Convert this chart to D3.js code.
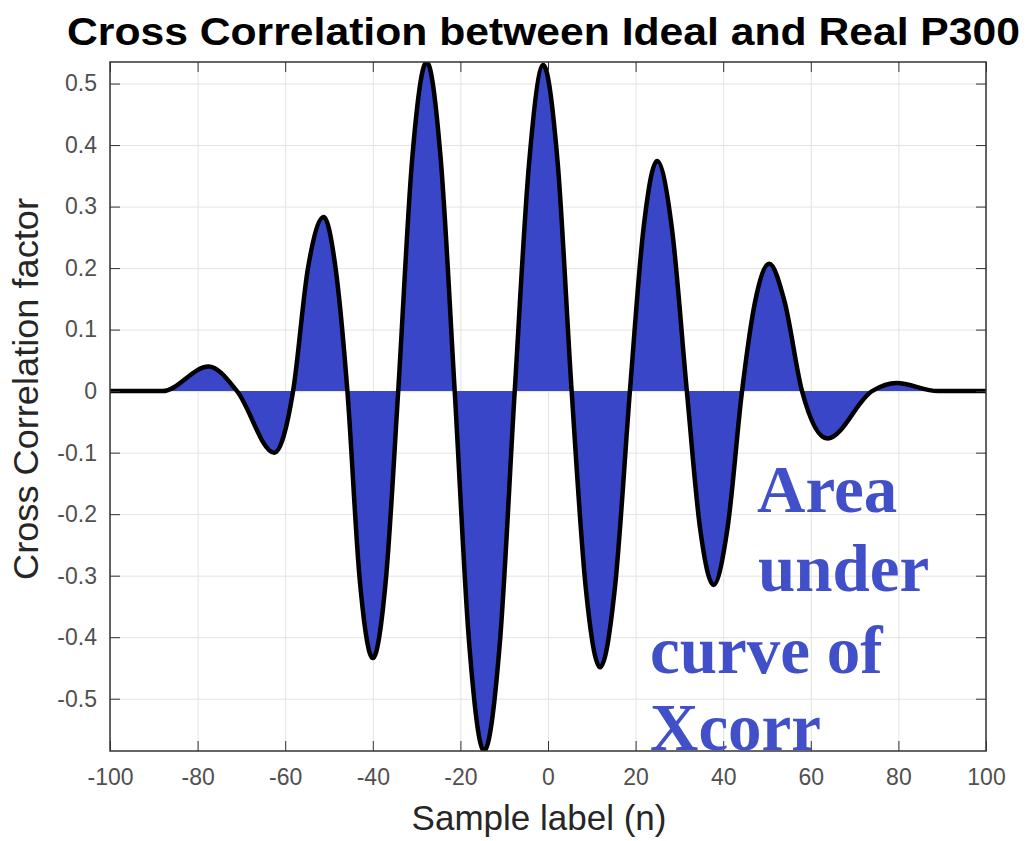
<!DOCTYPE html>
<html>
<head>
<meta charset="utf-8">
<script src="https://cdn.jsdelivr.net/npm/d3@7"></script>
<style>
  body { margin: 0; background: #fff; }
  .tick text { font-family: "Liberation Sans", Arial, sans-serif; font-size: 23px; fill: #505050; }
</style>
</head>
<body>
<script>
// size of the page
var w = 1034;
var h = 841;

// plot box
var boxLeft = 110, boxRight = 986, boxTop = 62, boxBottom = 751;

// lag (samples) and cross correlation
var lags = [-100, -88, -77.5, -71,
    -62.5, -58.2,
    -54.8, -51.2, -48.5, -45.8,
    -43, -40, -37, -34.2,
    -31, -27.7, -24.5, -21.3,
    -18, -14.6, -11, -7.6,
    -4.3, -1.1, 2.2, 5.4,
    8.6, 11.9, 15.3, 18.7,
    21.8, 24.9, 28.3, 31.7,
    34.7, 37.8, 41, 44.3,
    47.3, 50.5, 54, 58,
    63.8, 74,
    79.6, 89, 100];

var xcorr = [0, 0, 0.04, 0,
    -0.1, 0,
    0.2, 0.283, 0.2, 0,
    -0.305, -0.434, -0.305, 0,
    0.378, 0.535, 0.378, 0,
    -0.41, -0.585, -0.41, 0,
    0.372, 0.53, 0.372, 0,
    -0.318, -0.449, -0.318, 0,
    0.264, 0.374, 0.264, 0,
    -0.222, -0.315, -0.222, 0,
    0.146, 0.207, 0.146, 0,
    -0.077, 0,
    0.013, 0, 0];

var xTicks = [-100, -80, -60, -40, -20, 0, 20, 40, 60, 80, 100];
var yTicks = [-0.5, -0.4, -0.3, -0.2, -0.1, 0, 0.1, 0.2, 0.3, 0.4, 0.5];

var noteLines = ["Area", "under", "curve of", "Xcorr"];

var points = lags.map(function(d, i) { return [d, xcorr[i]]; });

var xScale = d3.scaleLinear()
    .domain([-100, 100])
    .range([boxLeft, boxRight]);

var yScale = d3.scaleLinear()
    .domain([-0.585, 0.535])
    .range([boxBottom, boxTop]);

var svg = d3.select("body")
    .append("svg")
    .attr("width", w)
    .attr("height", h);

svg.append("defs").append("clipPath")
    .attr("id", "plotclip")
    .append("rect")
    .attr("x", boxLeft)
    .attr("y", boxTop)
    .attr("width", boxRight - boxLeft)
    .attr("height", boxBottom - boxTop);

//grid
svg.append("g")
    .attr("transform", "translate(0," + boxBottom + ")")
    .call(d3.axisBottom(xScale).tickValues(xTicks).tickSize(-(boxBottom - boxTop)).tickFormat(""))
    .call(g => g.select(".domain").remove())
    .call(g => g.selectAll("line").attr("stroke", "#e3e3e3"));

svg.append("g")
    .attr("transform", "translate(" + boxLeft + ",0)")
    .call(d3.axisLeft(yScale).tickValues(yTicks).tickSize(-(boxRight - boxLeft)).tickFormat(""))
    .call(g => g.select(".domain").remove())
    .call(g => g.selectAll("line").attr("stroke", "#e3e3e3"));

//area and curve
var area = d3.area()
    .x(d => xScale(d[0]))
    .y0(yScale(0))
    .y1(d => yScale(d[1]))
    .curve(d3.curveMonotoneX);

var line = d3.line()
    .x(d => xScale(d[0]))
    .y(d => yScale(d[1]))
    .curve(d3.curveMonotoneX);

var plot = svg.append("g").attr("clip-path", "url(#plotclip)");

plot.append("path")
    .datum(points)
    .attr("d", area)
    .attr("fill", "#3a46c8");

plot.append("path")
    .datum(points)
    .attr("d", line)
    .attr("fill", "none")
    .attr("stroke", "#000")
    .attr("stroke-width", 4.5)
    .attr("stroke-linejoin", "round");

//axes with inward ticks
var axisColor = "#333";

svg.append("g")
    .attr("transform", "translate(0," + boxBottom + ")")
    .call(d3.axisBottom(xScale).tickValues(xTicks).tickSize(-10).tickPadding(18).tickFormat(d => String(d)))
    .call(g => g.select(".domain").remove())
    .call(g => g.selectAll("line").attr("stroke", axisColor));

svg.append("g")
    .attr("transform", "translate(0," + boxTop + ")")
    .call(d3.axisTop(xScale).tickValues(xTicks).tickSize(-10).tickFormat(""))
    .call(g => g.select(".domain").remove())
    .call(g => g.selectAll("line").attr("stroke", axisColor));

svg.append("g")
    .attr("transform", "translate(" + boxLeft + ",0)")
    .call(d3.axisLeft(yScale).tickValues(yTicks).tickSize(-10).tickPadding(13).tickFormat(d => String(d)))
    .call(g => g.select(".domain").remove())
    .call(g => g.selectAll("line").attr("stroke", axisColor));

svg.append("g")
    .attr("transform", "translate(" + boxRight + ",0)")
    .call(d3.axisRight(yScale).tickValues(yTicks).tickSize(-10).tickFormat(""))
    .call(g => g.select(".domain").remove())
    .call(g => g.selectAll("line").attr("stroke", axisColor));

svg.append("rect")
    .attr("x", boxLeft)
    .attr("y", boxTop)
    .attr("width", boxRight - boxLeft)
    .attr("height", boxBottom - boxTop)
    .attr("fill", "none")
    .attr("stroke", axisColor)
    .attr("stroke-width", 1.5);

//title and labels
svg.append("text")
    .attr("x", 67)
    .attr("y", 45)
    .attr("textLength", 953)
    .attr("lengthAdjust", "spacingAndGlyphs")
    .attr("font-family", "Liberation Sans, Arial, sans-serif")
    .attr("font-weight", "bold")
    .attr("font-size", "38px")
    .attr("fill", "#000")
    .text("Cross Correlation between Ideal and Real P300");

svg.append("text")
    .attr("x", 539)
    .attr("y", 830)
    .attr("text-anchor", "middle")
    .attr("font-family", "Liberation Sans, Arial, sans-serif")
    .attr("font-size", "35px")
    .attr("fill", "#262626")
    .text("Sample label (n)");

svg.append("text")
    .attr("transform", "translate(38,389) rotate(-90)")
    .attr("text-anchor", "middle")
    .attr("textLength", 382)
    .attr("lengthAdjust", "spacingAndGlyphs")
    .attr("font-family", "Liberation Sans, Arial, sans-serif")
    .attr("font-size", "35px")
    .attr("fill", "#262626")
    .text("Cross Correlation factor");

//annotation
var noteX = [757, 758, 650, 650];
var noteY = [512, 591, 673, 750];

svg.selectAll(".note")
    .data(noteLines)
    .enter()
    .append("text")
    .attr("class", "note")
    .attr("x", (d, i) => noteX[i])
    .attr("y", (d, i) => noteY[i])
    .attr("font-family", "Liberation Serif, Times New Roman, serif")
    .attr("font-weight", "bold")
    .attr("font-size", "67px")
    .attr("fill", "#4150c8")
    .text(d => d);
</script>
</body>
</html>
